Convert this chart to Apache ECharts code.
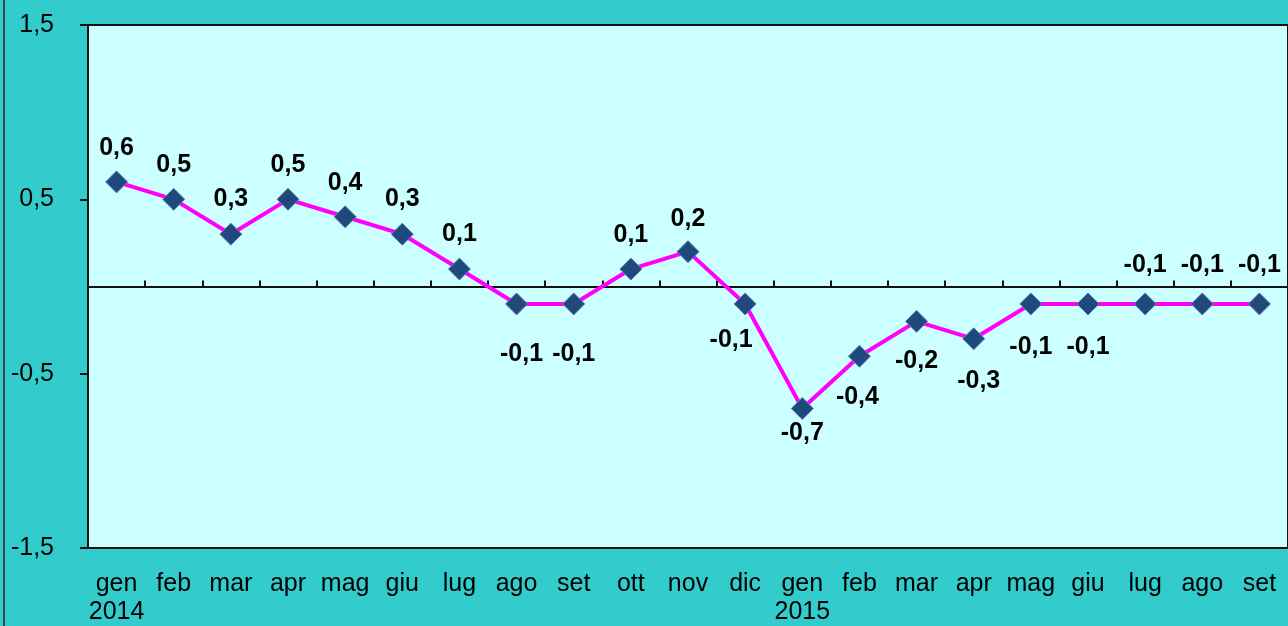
<!DOCTYPE html>
<html>
<head>
<meta charset="utf-8">
<script src="https://cdn.jsdelivr.net/npm/echarts@6/dist/echarts.min.js"></script>
<style>
html, body { margin: 0; padding: 0; background: #33CCCC; }
#chart { width: 1288px; height: 626px; }
</style>
</head>
<body>
<div id="chart"></div>
<script>
const months = ['gen\n2014', 'feb', 'mar', 'apr', 'mag', 'giu', 'lug', 'ago', 'set', 'ott', 'nov', 'dic',
    'gen\n2015', 'feb', 'mar', 'apr', 'mag', 'giu', 'lug', 'ago', 'set'];
const values = [0.6, 0.5, 0.3, 0.5, 0.4, 0.3, 0.1, -0.1, -0.1, 0.1, 0.2, -0.1,
    -0.7, -0.4, -0.2, -0.3, -0.1, -0.1, -0.1, -0.1, -0.1];
const yTicks = [-1.5, -0.5, 0.5, 1.5];

// label placement relative to each marker (as in the original sheet)
const labelShift = [
    [0, -34], [0, -34], [0, -35], [0, -34], [0, -34], [0, -35], [0, -35], [5, 50], [0, 50], [0, -34], [0, -33], [-14, 36],
    [0, 25], [-2, 41], [0, 40], [5, 42], [0, 43], [0, 43], [0, -39], [0, -39], [0, -39]
];

const font = 'Liberation Sans, Arial, sans-serif';
const comma = v => v.toFixed(1).replace('.', ',');

const chart = echarts.init(document.getElementById('chart'));

const seriesData = values.map((v, i) => ({
    value: v,
    label: { offset: labelShift[i] }
}));

const option = {
    backgroundColor: '#33CCCC',
    animation: false,
    graphic: [{
        type: 'line',
        shape: { x1: 4, y1: 0, x2: 4, y2: 626 },
        style: { stroke: '#3a4a4a', lineWidth: 2 }
    }],
    grid: {
        left: 88,
        right: -7,
        top: 25,
        bottom: 72,
        show: true,
        backgroundColor: '#CCFFFF',
        borderColor: '#111',
        borderWidth: 2
    },
    xAxis: [
        {
            type: 'category',
            data: months,
            position: 'bottom',
            boundaryGap: true,
            axisLine: { onZero: false, show: false },
            axisTick: { show: false },
            axisLabel: {
                margin: 22,
                fontFamily: font,
                fontSize: 25,
                color: '#000',
                lineHeight: 28,
                interval: 0
            }
        },
        {
            type: 'category',
            data: months,
            position: 'top',
            boundaryGap: true,
            axisLine: { onZero: true, lineStyle: { color: '#111', width: 2 } },
            axisTick: { show: true, inside: false, length: 6, lineStyle: { color: '#111', width: 2 } },
            axisLabel: { show: false }
        }
    ],
    yAxis: {
        type: 'value',
        min: -1.5,
        max: 1.5,
        interval: 1,
        axisLine: { show: false },
        axisTick: { show: true, length: 8, lineStyle: { color: '#111', width: 2 }, customValues: yTicks },
        splitLine: { show: false },
        axisLabel: {
            margin: 34,
            fontFamily: font,
            fontSize: 25,
            color: '#000',
            customValues: yTicks,
            formatter: v => comma(v)
        }
    },
    series: [{
        type: 'line',
        xAxisIndex: 0,
        data: seriesData,
        symbol: 'diamond',
        symbolSize: 22,
        lineStyle: { color: '#FF00FF', width: 4 },
        itemStyle: { color: '#1F497D', borderColor: '#5B7FAE', borderWidth: 1 },
        label: {
            show: true,
            position: 'inside',
            fontFamily: font,
            fontSize: 25,
            fontWeight: 'bold',
            color: '#000',
            formatter: p => comma(p.value)
        },
        z: 3
    }]
};

chart.setOption(option);
</script>
</body>
</html>
